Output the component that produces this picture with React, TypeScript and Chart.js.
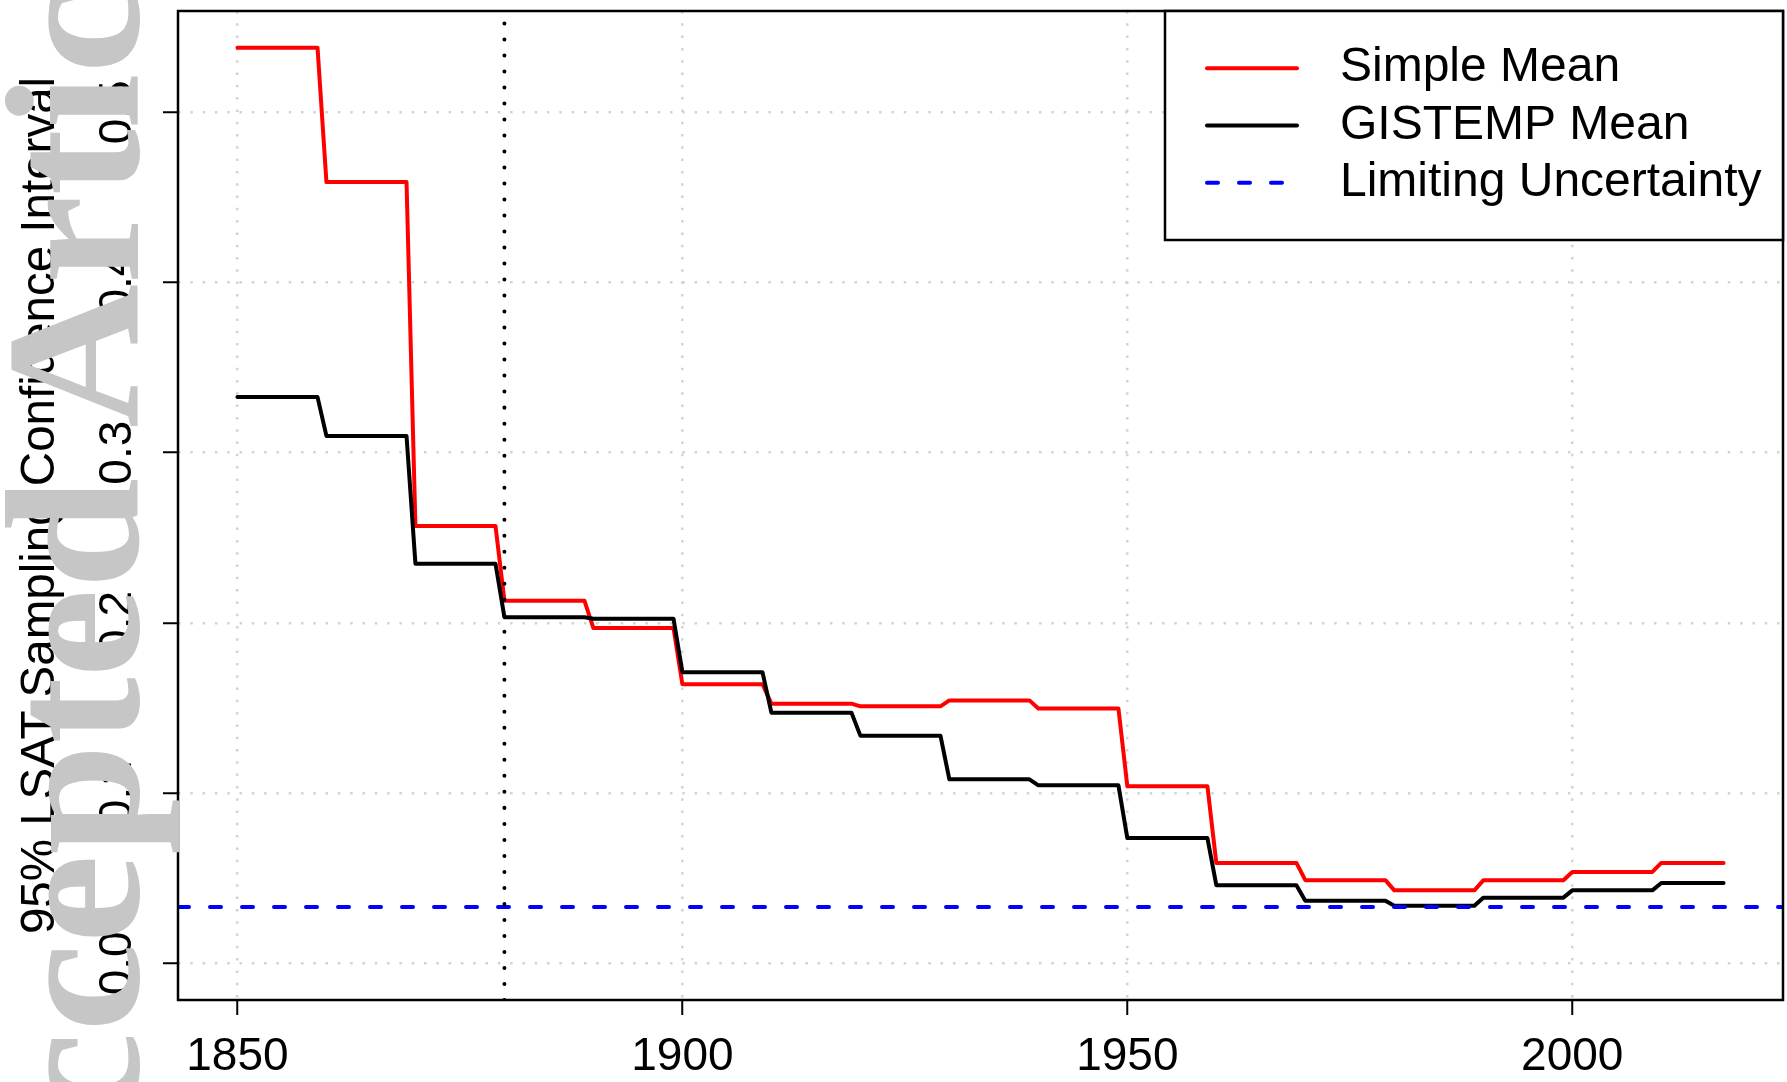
import React, { useEffect, useRef } from "react";
import { Chart, registerables } from "chart.js";

Chart.register(...registerables);

// ---- data ----
const DECADES = [1850, 1860, 1870, 1880, 1890, 1900, 1910, 1920, 1930, 1940, 1950, 1960, 1970, 1980, 1990, 2000, 2010];
const LAST_YEAR = 2017;
const SIMPLE_MEAN = [0.538, 0.459, 0.257, 0.213, 0.197, 0.164, 0.1526, 0.151, 0.1545, 0.1497, 0.104, 0.059, 0.0489, 0.0429, 0.0488, 0.0537, 0.059];
const GISTEMP_MEAN = [0.3327, 0.3099, 0.2348, 0.2034, 0.2025, 0.1711, 0.1473, 0.1338, 0.1081, 0.1046, 0.0736, 0.0459, 0.0368, 0.0338, 0.0386, 0.0429, 0.0472];
const LIMITING_UNCERTAINTY = 0.0331;
const MARKER_YEAR = 1880;
const SERIES_LABELS = ["Simple Mean", "GISTEMP Mean", "Limiting Uncertainty"];
const X_TICKS = [1850, 1900, 1950, 2000];
const Y_TICKS = [0, 0.1, 0.2, 0.3, 0.4, 0.5];
const X_RANGE = [1843.32, 2023.68];
const Y_RANGE = [-0.02152, 0.55952];
const Y_TITLE = "95% LSAT Sampling Confidence Interval";
const WATERMARK = "Accepted Article";

// ---- styles ----
const FONT = "Liberation Sans";
const GRID_COLOR = "rgb(211,211,211)";

const stepPoints = (vals: number[]) =>
  DECADES.flatMap((d, i) => [
    { x: d, y: vals[i] },
    { x: Math.min(d + 9, LAST_YEAR), y: vals[i] },
  ]);

const boxAndLegend = {
  id: "boxAndLegend",
  afterDatasetsDraw(chart: any) {
    const { ctx, chartArea } = chart;
    ctx.save();
    ctx.lineWidth = 2.5;
    ctx.strokeStyle = "#000";
    ctx.setLineDash([]);
    ctx.strokeRect(chartArea.left, chartArea.top, chartArea.right - chartArea.left, chartArea.bottom - chartArea.top);
    const w = 618;
    const h = 229;
    const x0 = chartArea.right - w;
    const y0 = chartArea.top;
    ctx.fillStyle = "#fff";
    ctx.fillRect(x0, y0, w, h);
    ctx.strokeRect(x0, y0, w, h);
    let row = 0;
    chart.data.datasets.forEach((ds: any) => {
      if (!ds.label) return;
      row += 1;
      const y = y0 + (h * row) / 4;
      ctx.beginPath();
      ctx.setLineDash(ds.borderDash || []);
      ctx.lineCap = "round";
      ctx.lineWidth = ds.borderWidth;
      ctx.strokeStyle = ds.borderColor;
      ctx.moveTo(x0 + 42, y);
      ctx.lineTo(x0 + 132, y);
      ctx.stroke();
      ctx.setLineDash([]);
      ctx.fillStyle = "#000";
      ctx.font = `48px "${FONT}"`;
      ctx.textBaseline = "middle";
      ctx.textAlign = "left";
      ctx.fillText(ds.label, x0 + 175, y);
    });
    ctx.restore();
  },
};

const watermark = {
  id: "watermark",
  afterDraw(chart: any) {
    const { ctx } = chart;
    ctx.save();
    ctx.font = `bold 190px "Liberation Serif"`;
    ctx.fillStyle = "rgb(198,198,198)";
    ctx.textBaseline = "alphabetic";
    ctx.textAlign = "left";
    const stretch = 1.05;
    const skip = ctx.measureText("Accepted ").width * stretch;
    ctx.translate(138, 428 + skip);
    ctx.rotate(-Math.PI / 2);
    ctx.scale(stretch, 1);
    ctx.fillText(WATERMARK, 0, 0);
    ctx.restore();
  },
};

const noPad = (s: any) => {
  s.paddingTop = 0;
  s.paddingBottom = 0;
  s.paddingLeft = 0;
  s.paddingRight = 0;
};

export default function App() {
  const ref = useRef<HTMLCanvasElement | null>(null);

  useEffect(() => {
    if (!ref.current) return;
    const chart = new Chart(ref.current, {
      type: "line",
      data: {
        datasets: [
          {
            label: SERIES_LABELS[0],
            data: stepPoints(SIMPLE_MEAN),
            borderColor: "#FF0000",
            borderWidth: 4,
            pointRadius: 0,
            borderCapStyle: "round",
            borderJoinStyle: "round",
            order: 4,
          },
          {
            label: SERIES_LABELS[1],
            data: stepPoints(GISTEMP_MEAN),
            borderColor: "#000000",
            borderWidth: 4,
            pointRadius: 0,
            borderCapStyle: "round",
            borderJoinStyle: "round",
            order: 3,
          },
          {
            label: SERIES_LABELS[2],
            data: [
              { x: X_RANGE[0], y: LIMITING_UNCERTAINTY },
              { x: X_RANGE[1], y: LIMITING_UNCERTAINTY },
            ],
            borderColor: "#0000FF",
            borderWidth: 4,
            borderDash: [11, 21],
            pointRadius: 0,
            borderCapStyle: "round",
            order: 2,
          },
          {
            label: "",
            data: [
              { x: MARKER_YEAR, y: Y_RANGE[0] },
              { x: MARKER_YEAR, y: Y_RANGE[1] },
            ],
            borderColor: "#000000",
            borderWidth: 4,
            borderDash: [0.01, 16],
            pointRadius: 0,
            borderCapStyle: "round",
            order: 1,
          },
        ] as any,
      },
      options: {
        responsive: false,
        animation: false,
        devicePixelRatio: 1,
        layout: { padding: { top: 11, right: 4, left: 0, bottom: 0 } },
        plugins: { legend: { display: false }, tooltip: { enabled: false } },
        scales: {
          x: {
            type: "linear",
            min: X_RANGE[0],
            max: X_RANGE[1],
            afterBuildTicks: (s: any) => {
              s.ticks = X_TICKS.map((v) => ({ value: v }));
            },
            afterFit: (s: any) => {
              s.height = 82;
              noPad(s);
            },
            ticks: {
              color: "#000",
              font: { family: FONT, size: 46 },
              padding: 15,
              maxRotation: 0,
              autoSkip: false,
              callback: (v: any) => String(v),
            },
            grid: {
              color: GRID_COLOR,
              lineWidth: 2.5,
              drawTicks: true,
              tickLength: 15,
              tickColor: "#000",
              tickWidth: 2,
            },
            border: { display: false, dash: [2.5, 9.8] },
          },
          y: {
            type: "linear",
            min: Y_RANGE[0],
            max: Y_RANGE[1],
            afterBuildTicks: (s: any) => {
              s.ticks = Y_TICKS.map((v) => ({ value: v }));
            },
            afterFit: (s: any) => {
              s.width = 178;
              noPad(s);
            },
            ticks: {
              color: "#000",
              font: { family: FONT, size: 46 },
              padding: 13,
              minRotation: 90,
              maxRotation: 90,
              crossAlign: "center",
              autoSkip: false,
              callback: (v: any) => Number(v).toFixed(1),
            },
            grid: {
              color: GRID_COLOR,
              lineWidth: 2.5,
              drawTicks: true,
              tickLength: 15,
              tickColor: "#000",
              tickWidth: 2,
            },
            border: { display: false, dash: [2.5, 9.8] },
            title: {
              display: true,
              text: Y_TITLE,
              color: "#000",
              font: { family: FONT, size: 47.5 },
              padding: { top: 12, bottom: 0 },
            },
          },
        },
      } as any,
      plugins: [boxAndLegend, watermark],
    });
    return () => chart.destroy();
  }, []);

  return (
    <div style={{ position: "fixed", left: 0, top: 0, width: 1787, height: 1082, background: "#fff" }}>
      <canvas ref={ref} width={1787} height={1082} style={{ display: "block", width: 1787, height: 1082 }} />
    </div>
  );
}
